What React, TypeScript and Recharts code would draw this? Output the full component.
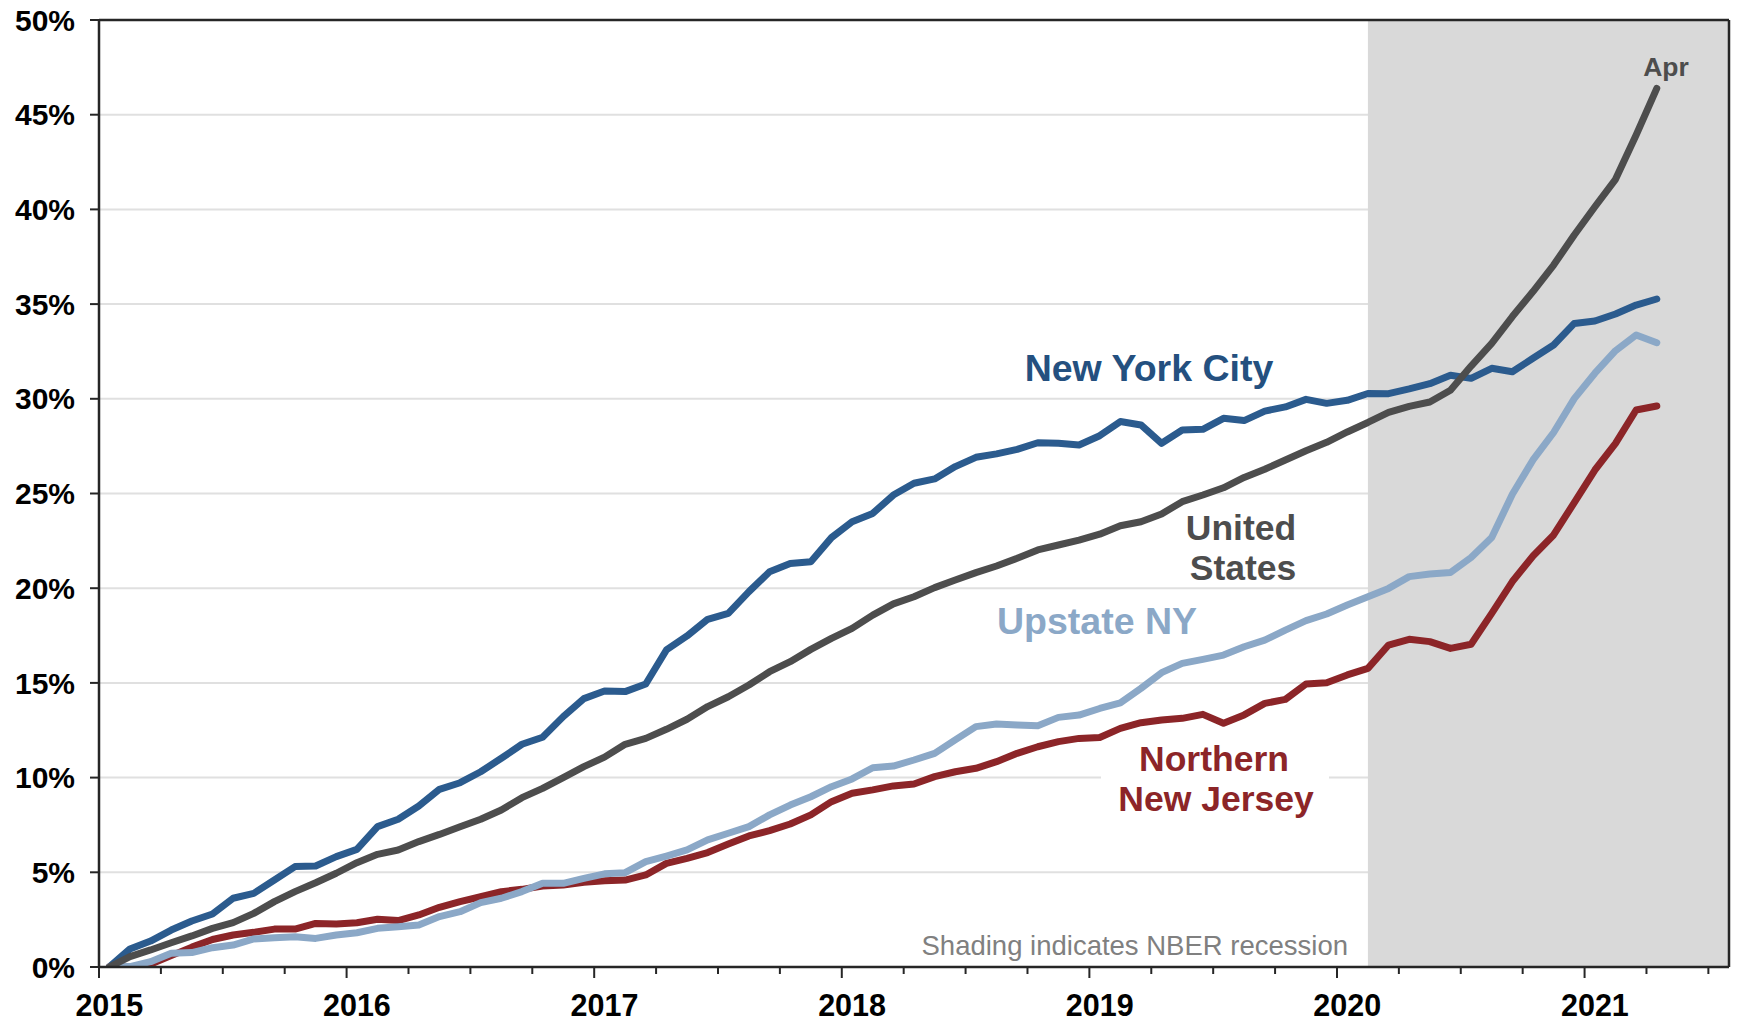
import {
  LineChart,
  Line,
  XAxis,
  YAxis,
  CartesianGrid,
  ReferenceArea,
  ReferenceLine,
} from "recharts";

// cumulative % change since Jan 2015, monthly Jan 2015 .. Apr 2021
const nyc = [
  0, 0.95, 1.37, 1.95, 2.43, 2.8, 3.63, 3.89, 4.59, 5.3,
  5.33, 5.83, 6.21, 7.41, 7.8, 8.5, 9.38, 9.73, 10.31, 11.02,
  11.76, 12.13, 13.22, 14.17, 14.57, 14.54, 14.94, 16.74, 17.48, 18.36,
  18.67, 19.82, 20.87, 21.31, 21.4, 22.67, 23.51, 23.95, 24.92, 25.54,
  25.77, 26.42, 26.91, 27.09, 27.33, 27.68, 27.65, 27.56, 28.05, 28.8,
  28.62, 27.65, 28.35, 28.39, 28.97, 28.85, 29.35, 29.57, 29.97, 29.76,
  29.92, 30.28, 30.27, 30.52, 30.8, 31.24, 31.08, 31.61, 31.43, 32.14,
  32.84, 33.98, 34.11, 34.48, 34.95, 35.27,
];
const us = [
  0, 0.55, 0.9, 1.28, 1.64, 2.04, 2.34, 2.83, 3.45, 3.98,
  4.45, 4.95, 5.51, 5.95, 6.18, 6.62, 7.0, 7.41, 7.8, 8.29,
  8.94, 9.43, 10.0, 10.58, 11.08, 11.76, 12.07, 12.55, 13.08, 13.75,
  14.27, 14.89, 15.59, 16.12, 16.77, 17.35, 17.88, 18.58, 19.17, 19.55,
  20.03, 20.43, 20.82, 21.17, 21.58, 22.02, 22.28, 22.54, 22.85, 23.3,
  23.51, 23.92, 24.57, 24.92, 25.3, 25.85, 26.28, 26.77, 27.26, 27.7,
  28.25, 28.75, 29.28, 29.6, 29.83, 30.45, 31.73, 32.93, 34.34, 35.66,
  37.06, 38.65, 40.14, 41.59, 43.93, 46.39,
];
const upstate = [
  0, 0.02, 0.28, 0.72, 0.76, 1.02, 1.16, 1.48, 1.55, 1.6,
  1.51, 1.69, 1.81, 2.04, 2.13, 2.22, 2.66, 2.92, 3.4, 3.63,
  3.98, 4.42, 4.42, 4.68, 4.92, 4.98, 5.56, 5.86, 6.18, 6.71,
  7.06, 7.41, 8.03, 8.55, 8.99, 9.52, 9.93, 10.52, 10.61, 10.93,
  11.28, 11.99, 12.69, 12.83, 12.78, 12.74, 13.18, 13.3, 13.65, 13.95,
  14.71, 15.54, 16.03, 16.24, 16.47, 16.91, 17.26, 17.79, 18.29, 18.64,
  19.11, 19.55, 19.99, 20.61, 20.75, 20.83, 21.62, 22.68, 24.96, 26.77,
  28.22, 30.01, 31.35, 32.54, 33.37, 32.96,
];
const nnj = [
  0, 0, 0.15, 0.6, 1.05, 1.45, 1.69, 1.83, 2.0, 2.0,
  2.3, 2.27, 2.34, 2.52, 2.45, 2.75, 3.15, 3.45, 3.71, 3.98,
  4.1, 4.28, 4.33, 4.47, 4.55, 4.59, 4.86, 5.47, 5.74, 6.04,
  6.49, 6.92, 7.2, 7.55, 8.03, 8.73, 9.17, 9.35, 9.56, 9.66,
  10.05, 10.31, 10.49, 10.84, 11.28, 11.63, 11.9, 12.07, 12.12, 12.6,
  12.9, 13.04, 13.13, 13.34, 12.87, 13.31, 13.92, 14.13, 14.94, 15.01,
  15.42, 15.77, 17.0, 17.3, 17.18, 16.82, 17.04, 18.67, 20.35, 21.7,
  22.81, 24.52, 26.24, 27.65, 29.41, 29.62,
];

const years = ["2015", "2016", "2017", "2018", "2019", "2020", "2021"];
const yTicks = [0, 5, 10, 15, 20, 25, 30, 35, 40, 45, 50];
const recessionStart = 61; // Feb 2020, months after Jan 2015
const axisEnd = 79; // axis runs through Jul 2021

const W = 1737;
const H = 1025;
const MARGIN = { top: 20, right: 8, bottom: 0, left: 0 };
const Y_AXIS_W = 99;
const X_AXIS_H = 58;
const MONTH_PX = (W - MARGIN.right - Y_AXIS_W) / axisEnd;

const FONT = "'Liberation Sans', Arial, Helvetica, sans-serif";
const AXIS = "#262626";
const C_NYC = "#2b5b8e";
const C_US = "#4d4d4d";
const C_UP = "#8ba8c7";
const C_NNJ = "#8c2528";

const data = nyc.map((v, i) => ({
  m: i + 0.5,
  nyc: v,
  us: us[i],
  upstate: upstate[i],
  nnj: nnj[i],
}));
const xTicks = Array.from({ length: Math.floor(axisEnd / 3) + 1 }, (_, k) => k * 3);

function MonthTick(props: any) {
  const { x, y, payload } = props;
  const m = payload.value as number;
  const isYear = m % 12 === 0;
  const label = isYear ? years[m / 12] : undefined;
  return (
    <g>
      <line x1={x} x2={x} y1={y} y2={y + (isYear ? 11 : 7)} stroke={AXIS} strokeWidth={2} />
      {label && (
        <text
          x={x + MONTH_PX / 2}
          y={y + 49}
          textAnchor="middle"
          fontFamily={FONT}
          fontWeight={700}
          fontSize={30.5}
          fill="#000"
        >
          {label}
        </text>
      )}
    </g>
  );
}

export default function App() {
  const line = {
    type: "linear" as const,
    dot: false,
    activeDot: false,
    strokeWidth: 7,
    strokeLinecap: "round" as const,
    strokeLinejoin: "round" as const,
    isAnimationActive: false,
  };
  return (
    <div style={{ position: "absolute", left: 0, top: 0, width: W, height: H, background: "#fff" }}>
      <LineChart width={W} height={H} data={data} margin={MARGIN}>
        <CartesianGrid vertical={false} stroke="#e0e0e0" strokeWidth={2} />
        <ReferenceArea
          x1={recessionStart + 0.5}
          x2={axisEnd}
          y1={0}
          y2={50}
          fill="#d9d9d9"
          fillOpacity={1}
          stroke="none"
        />
        <XAxis
          dataKey="m"
          type="number"
          domain={[0, axisEnd]}
          ticks={xTicks}
          interval={0}
          height={X_AXIS_H}
          tickLine={false}
          tickSize={0}
          tickMargin={0}
          tick={(p: any) => <MonthTick {...p} />}
          axisLine={{ stroke: AXIS, strokeWidth: 2.5 }}
        />
        <YAxis
          type="number"
          domain={[0, 50]}
          ticks={yTicks}
          allowDataOverflow
          width={Y_AXIS_W}
          tickSize={9}
          tickMargin={15}
          tickFormatter={(v: number) => `${v}%`}
          tick={{ fill: "#000", fontSize: 30, fontWeight: 700, fontFamily: FONT }}
          tickLine={{ stroke: AXIS, strokeWidth: 2 }}
          axisLine={{ stroke: AXIS, strokeWidth: 2.5 }}
        />
        <Line dataKey="nyc" stroke={C_NYC} {...line} />
        <Line dataKey="nnj" stroke={C_NNJ} {...line} />
        <Line dataKey="upstate" stroke={C_UP} {...line} />
        <Line dataKey="us" stroke={C_US} {...line} />
        <ReferenceLine y={50} stroke={AXIS} strokeWidth={2.5} />
        <ReferenceLine x={axisEnd} stroke={AXIS} strokeWidth={2.5} />
      </LineChart>
      <svg
        width={W}
        height={H}
        style={{ position: "absolute", left: 0, top: 0, pointerEvents: "none" }}
        fontFamily={FONT}
        fontWeight={700}
        textAnchor="middle"
      >
        <text x={1149} y={381} fontSize={37.5} fill="#24507f">New York City</text>
        <text x={1241} y={539.5} fontSize={35.5} fill={C_US}>United</text>
        <text x={1243} y={579.5} fontSize={35.5} fill={C_US}>States</text>
        <text x={1097} y={634} fontSize={37.5} fill={C_UP}>Upstate NY</text>
        <rect x={1101} y={765} width={228} height={24} fill="#fff" />
        <text x={1214} y={770.5} fontSize={35.5} fill={C_NNJ}>Northern</text>
        <text x={1216} y={810.5} fontSize={35.5} fill={C_NNJ}>New Jersey</text>
        <text x={1666} y={76} fontSize={26.5} fill={C_US}>Apr</text>
        <text
          x={1348}
          y={955}
          fontSize={27.5}
          fontWeight={400}
          fill="#808080"
          textAnchor="end"
        >
          Shading indicates NBER recession
        </text>
      </svg>
    </div>
  );
}
